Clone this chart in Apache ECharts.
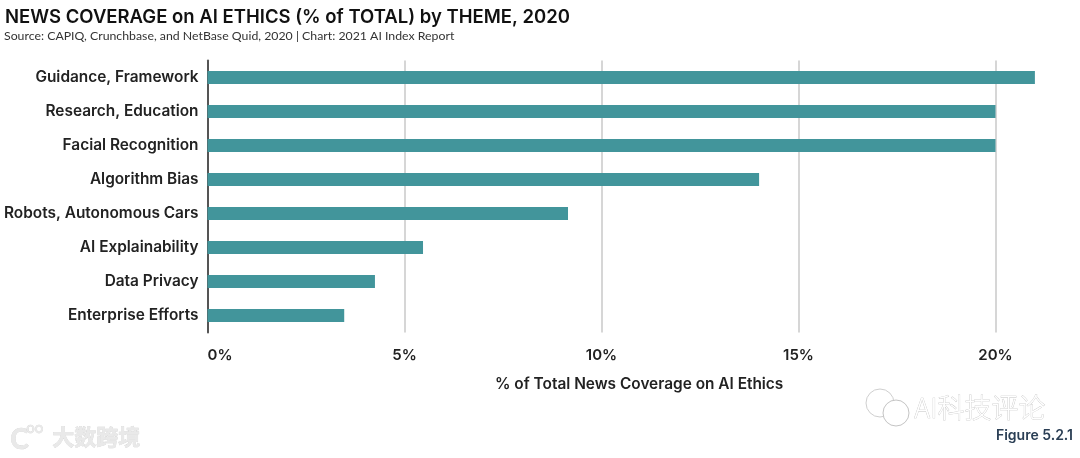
<!DOCTYPE html>
<html><head><meta charset="utf-8">
<style>html,body{margin:0;padding:0;background:#fff}#c{width:1080px;height:458px}</style>
<script src="https://cdn.jsdelivr.net/npm/echarts@6/dist/echarts.min.js"></script>
</head><body><div id="c"></div>
<script>
const categories = ["Guidance, Framework","Research, Education","Facial Recognition","Algorithm Bias","Robots, Autonomous Cars","AI Explainability","Data Privacy","Enterprise Efforts"];
const values = [21,20,20,14,9.15,5.47,4.25,3.47];
const titleText = "NEWS COVERAGE on AI ETHICS (% of TOTAL) by THEME, 2020";
const subtitleText = "Source: CAPIQ, Crunchbase, and NetBase Quid, 2020 | Chart: 2021 AI Index Report";
const axisTitle = "% of Total News Coverage on AI Ethics";
const font = "Inter";
const chart = echarts.init(document.getElementById('c'),null,{renderer:'canvas'});
chart.setOption({
  animation:false,
  backgroundColor:'#fff',
  title:[
    {text:titleText,left:5,top:8,padding:0,textStyle:{fontFamily:font,fontSize:18.5,fontWeight:600,color:'#111'}},
    {text:subtitleText,left:4,top:30,padding:0,textStyle:{fontFamily:"Lato",fontSize:12.3,fontWeight:400,color:'#333'}}
  ],
  grid:{left:207.5,top:60.5,width:827.4,height:272,containLabel:false},
  xAxis:{type:'value',min:0,max:21,interval:5,
    axisLine:{show:false},axisTick:{show:false},
    axisLabel:{formatter:v=>v+'%',fontFamily:font,fontSize:15,fontWeight:600,color:'#222',margin:15,alignMinLabel:'left',showMaxLabel:false},
    splitLine:{show:true,showMaxLine:false,lineStyle:{color:'#c8c8c8',width:1.5}}
  },
  yAxis:{type:'category',data:categories,inverse:true,
    axisLine:{show:true,lineStyle:{color:'#555',width:2}},axisTick:{show:false},
    axisLabel:{fontFamily:font,fontSize:15.4,fontWeight:600,color:'#222',margin:9}
  },
  series:[{type:'bar',data:values,barWidth:13,itemStyle:{color:'#42959b'},z:3}],
  graphic:[
    {type:'text',left:495,top:377,style:{text:axisTitle,fontFamily:font,fontSize:15.4,fontWeight:600,fill:'#222'}},
    {type:'text',right:7,top:429,style:{text:'Figure 5.2.1',fontFamily:font,fontSize:14,fontWeight:600,fill:'#2b3f55'}},
    {type:'circle',shape:{cx:880,cy:403,r:14},style:{fill:'#fff',stroke:'#cfcfcf',lineWidth:1}},
    {type:'circle',shape:{cx:896,cy:413,r:13},style:{fill:'#fff',stroke:'#c4c4c4',lineWidth:1}},
    {type:'text',left:914,top:394,style:{text:'AI科技评论',fontFamily:'"Noto Sans CJK SC"',fontSize:27,fontWeight:300,fill:'#fff',stroke:'#c4c4c4',lineWidth:0.7}},
    {type:'text',left:52,top:425,style:{text:'大数跨境',fontFamily:'"Noto Sans CJK SC"',fontSize:22,fontWeight:700,fill:'#e9e9e9',stroke:'#cfcfcf',lineWidth:0.5}},
    {type:'text',left:10,top:426,style:{text:'C',fontFamily:'Lato',fontSize:28,fontWeight:700,fill:'#e9e9e9',stroke:'#cfcfcf',lineWidth:0.5}},
    {type:'text',left:26,top:420,style:{text:'oo',fontFamily:'Lato',fontSize:15,fill:'#e9e9e9',stroke:'#cfcfcf',lineWidth:0.5}}
  ]
});
</script></body></html>
